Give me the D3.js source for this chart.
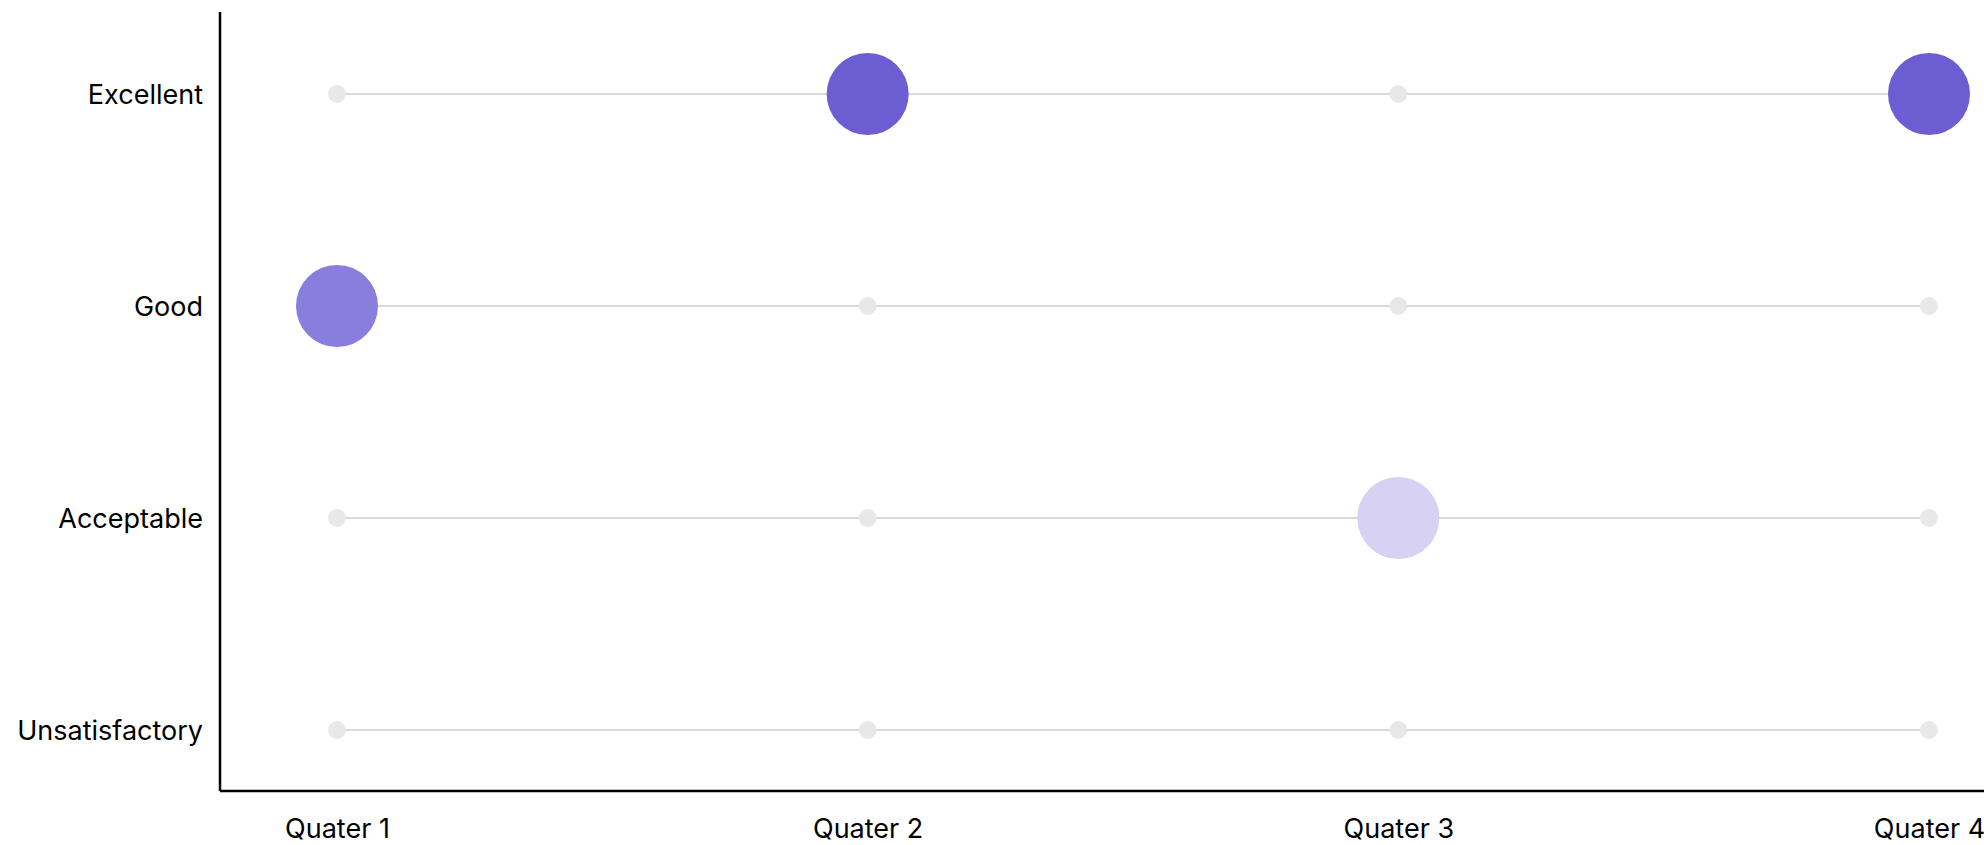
<!DOCTYPE html>
<html>
<head>
<meta charset="utf-8">
<script src="https://cdn.jsdelivr.net/npm/d3@7/dist/d3.min.js"></script>
<style>
  html, body { margin: 0; padding: 0; background: #ffffff; }
  svg { display: block; }
  .tick text { font-family: Inter, "Noto Sans", sans-serif; font-size: 27px; fill: #000; }
</style>
</head>
<body>
<svg id="chart" width="1984" height="845"></svg>
<script>
// Quarterly performance ratings
const quarters = ["Quater 1", "Quater 2", "Quater 3", "Quater 4"];
const ratings = ["Excellent", "Good", "Acceptable", "Unsatisfactory"];
const quarterRating = ["Good", "Excellent", "Acceptable", "Excellent"];
const ratingColors = ["#6c5dd3", "#897ddd", "#d7d1f4", "#ece9fa"];

const width = 1984, height = 845;
const axisX = 220, axisY = 791, axisTop = 12;

const svg = d3.select("#chart");

const x = d3.scalePoint().domain(quarters).range([337, 1929]);
const y = d3.scalePoint().domain(ratings).range([94, 730]);
const color = d3.scaleOrdinal().domain(ratings).range(ratingColors);

// Horizontal guide line for each rating level
svg.append("g")
  .selectAll("line")
  .data(ratings)
  .join("line")
  .attr("x1", x(quarters[0]))
  .attr("x2", x(quarters[quarters.length - 1]))
  .attr("y1", d => y(d))
  .attr("y2", d => y(d))
  .attr("stroke", "#d9d9d9")
  .attr("stroke-width", 2);

// Small placeholder dot at every quarter / rating intersection
const grid = quarters.flatMap(q => ratings.map(r => ({ q, r })));
svg.append("g")
  .selectAll("circle")
  .data(grid.filter(d => quarterRating[quarters.indexOf(d.q)] !== d.r))
  .join("circle")
  .attr("cx", d => x(d.q))
  .attr("cy", d => y(d.r))
  .attr("r", 9)
  .attr("fill", "#e8e8e8");

// Rating achieved in each quarter
svg.append("g")
  .selectAll("circle")
  .data(quarters.map((q, i) => ({ q, r: quarterRating[i] })))
  .join("circle")
  .attr("cx", d => x(d.q))
  .attr("cy", d => y(d.r))
  .attr("r", 41)
  .attr("fill", d => color(d.r));

// Y axis
const yAxis = svg.append("g")
  .attr("transform", `translate(${axisX},0)`)
  .call(d3.axisLeft(y).tickSize(0).tickPadding(17));
yAxis.select(".domain").remove();
yAxis.selectAll(".tick text").attr("dy", "0.35em");
svg.append("line")
  .attr("x1", axisX).attr("x2", axisX)
  .attr("y1", axisTop).attr("y2", axisY)
  .attr("stroke", "#000").attr("stroke-width", 2.5);

// X axis
const xAxis = svg.append("g")
  .attr("transform", `translate(0,${axisY})`)
  .call(d3.axisBottom(x).tickSize(0).tickPadding(28));
xAxis.select(".domain").remove();
xAxis.selectAll(".tick text").attr("dy", "0.71em");
svg.append("line")
  .attr("x1", axisX).attr("x2", width)
  .attr("y1", axisY).attr("y2", axisY)
  .attr("stroke", "#000").attr("stroke-width", 2.5);
</script>
</body>
</html>
